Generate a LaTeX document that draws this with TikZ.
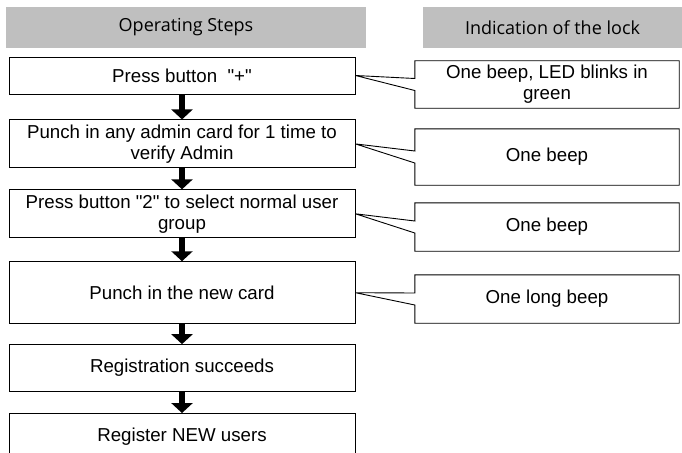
\documentclass[tikz,border=0pt]{standalone}
\usepackage{fontspec}
\setmainfont{Liberation Sans}
\newfontfamily\headfont{Open Sans}
\usetikzlibrary{arrows.meta,positioning}
\definecolor{hdrgray}{RGB}{191,191,191}
% callout outline: box #1 with a wedge pointing at step #2
\newcommand{\beepframe}[2]{%
  \draw[frame] (#1.north west) -- ([yshift=6pt]#1.west) -- (#2.east)
    -- ([yshift=-6pt]#1.west) -- (#1.south west) -- (#1.south east)
    -- (#1.north east) -- cycle;}

\begin{document}
\begin{tikzpicture}[
  x=1pt, y=-1pt,
  font=\fontsize{18.7}{21}\selectfont,
  header/.style={fill=hdrgray, minimum height=41pt, inner sep=0pt, font=\headfont\fontsize{18}{21}\selectfont},
  stepbox/.style={draw, line width=0.9pt, minimum width=346pt, align=center, inner sep=0pt, fill=white},
  beep/.style={minimum width=264pt, align=center, inner sep=0pt},
  frame/.style={line width=0.9pt, line join=miter},
  bigarrow/.style={line width=6pt, -{Triangle[width=21pt,length=10pt]}}
]
\useasboundingbox (0,0) rectangle (682,452);
% Column headers
\node[header, minimum width=360pt] (hsteps) at (186,27.5) {Operating Steps};
\node[header, minimum width=259pt] (hlock) at (552.5,27.5) {Indication of the lock};
% Operating steps
\node[stepbox, minimum height=37pt] (s1) at (182,75.5) {Press button\ \ \textquotedbl+\textquotedbl};
\node[stepbox, minimum height=48pt, below=25pt of s1] (s2) {Punch in any admin card for 1 time to\\verify Admin};
\node[stepbox, minimum height=48pt, below=21pt of s2] (s3) {Press button \textquotedbl2\textquotedbl\ to select normal user\\group};
\node[stepbox, minimum height=62pt, below=23pt of s3] (s4) {Punch in the new card};
\node[stepbox, minimum height=47pt, below=20pt of s4] (s5) {Registration succeeds};
\node[stepbox, minimum height=46pt, below=21pt of s5] (s6) {Register NEW users};
\draw[bigarrow] (s1) -- (s2);
\draw[bigarrow] (s2) -- (s3);
\draw[bigarrow] (s3) -- (s4);
\draw[bigarrow] (s4) -- (s5);
\draw[bigarrow] (s5) -- (s6);
% Indications
\node[beep, minimum height=47pt] (c1) at (547,84.5) {One beep, LED blinks in\\green};
\node[beep, minimum height=56pt] (c2) at (547,157) {One beep};
\node[beep, minimum height=48pt] (c3) at (547,227) {One beep};
\node[beep, minimum height=48pt] (c4) at (547,299) {One long beep};
\beepframe{c1}{s1}
\beepframe{c2}{s2}
\beepframe{c3}{s3}
\beepframe{c4}{s4}
\end{tikzpicture}
\end{document}
